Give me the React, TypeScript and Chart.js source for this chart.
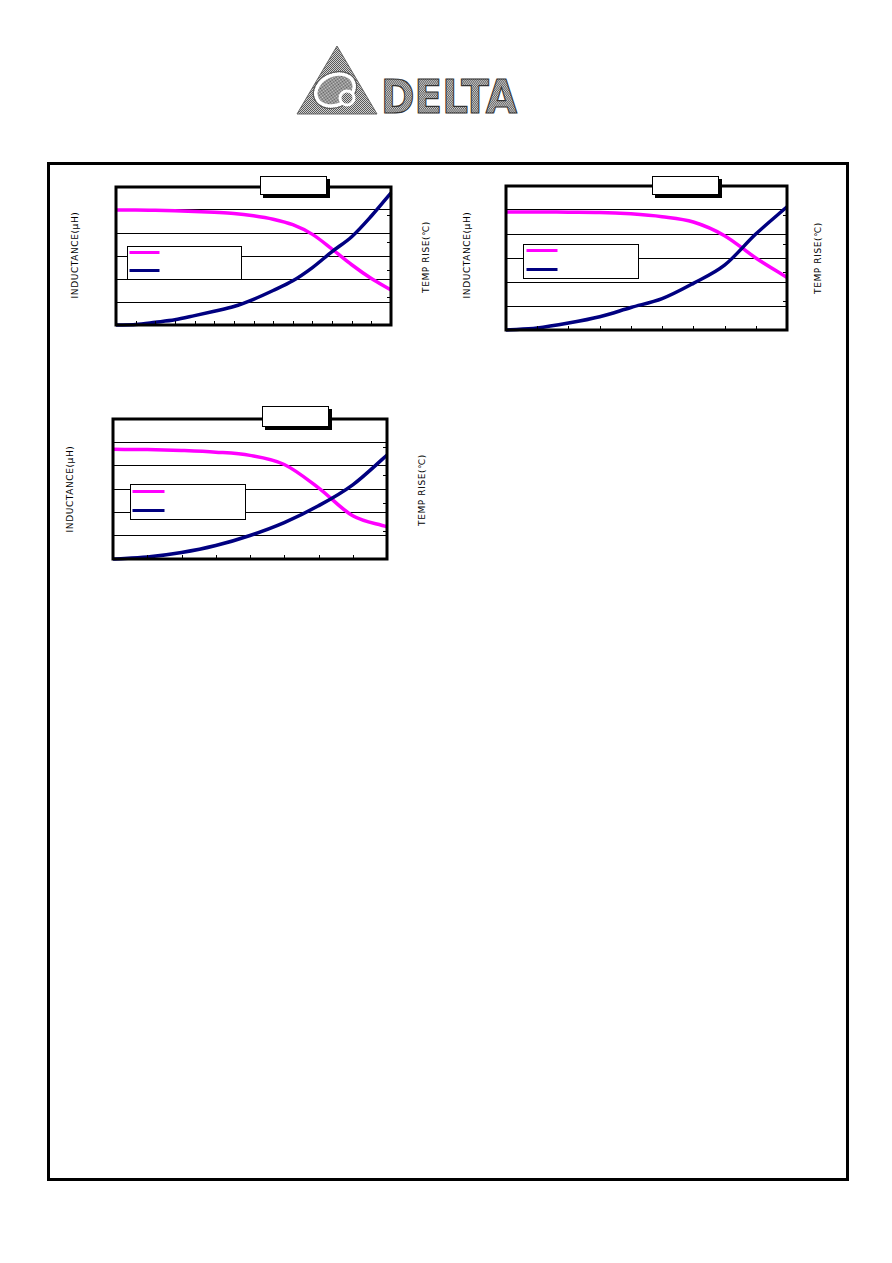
import React, { useEffect, useRef } from "react";
import { Chart, registerables } from "chart.js";
Chart.register(...registerables);

// ---------- data ----------
const seriesNames = ["INDUCTANCE", "TEMP RISE"];
const leftAxisTitle = "INDUCTANCE(μH)";
const rightAxisTitle = "TEMP RISE(℃)";

const chart1X = [0, 1, 2, 3, 4, 5, 6, 7, 8, 9, 10, 11, 12, 13, 14];
const chart1Inductance = [5.0, 5.0, 4.99, 4.97, 4.94, 4.9, 4.85, 4.75, 4.6, 4.36, 3.94, 3.3, 2.62, 2.02, 1.52];
const chart1TempRise = [0, 0.02, 0.1, 0.19, 0.34, 0.5, 0.67, 0.93, 1.25, 1.6, 2.08, 2.66, 3.2, 3.95, 4.79];

const chart2X = [0, 1, 2, 3, 4, 5, 6, 7, 8, 9];
const chart2Inductance = [4.92, 4.92, 4.91, 4.9, 4.84, 4.72, 4.5, 3.93, 3.0, 2.19];
const chart2TempRise = [0, 0.07, 0.24, 0.46, 0.78, 1.09, 1.62, 2.25, 3.33, 4.28];

const chart3X = [0, 1, 2, 3, 4, 5, 6, 7, 8];
const chart3Inductance = [4.7, 4.69, 4.65, 4.58, 4.44, 4.05, 3.05, 1.85, 1.38];
const chart3TempRise = [0, 0.07, 0.23, 0.48, 0.84, 1.3, 1.9, 2.65, 3.71];

const leftMax = 6;
const rightMax = 5;

const PAD = 8;

type Cfg = {
  xs: number[];
  ind: number[];
  temp: number[];
  xMax: number;
  plot: [number, number, number, number];
  legend: [number, number, number, number];
  legendLine: [number, number, number, number];
  titleBox: [number, number, number, number];
  leftLabel: [number, number];
  rightLabel: [number, number];
};

const charts: Cfg[] = [
  {
    xs: chart1X, ind: chart1Inductance, temp: chart1TempRise, xMax: 14,
    plot: [116, 187, 391, 325],
    legend: [11, 59, 114, 33],
    legendLine: [2, 32, 6, 24],
    titleBox: [260, 176, 67, 19],
    leftLabel: [75, 255],
    rightLabel: [426, 257],
  },
  {
    xs: chart2X, ind: chart2Inductance, temp: chart2TempRise, xMax: 9,
    plot: [506, 186, 787, 330],
    legend: [17, 58, 115, 34],
    legendLine: [3, 34, 6, 25],
    titleBox: [652, 176, 67, 19],
    leftLabel: [467, 255],
    rightLabel: [818, 258],
  },
  {
    xs: chart3X, ind: chart3Inductance, temp: chart3TempRise, xMax: 8,
    plot: [113, 419, 387, 559],
    legend: [17, 65, 115, 35],
    legendLine: [2, 34, 7, 26],
    titleBox: [262, 406, 67, 21],
    leftLabel: [70, 489],
    rightLabel: [422, 490],
  },
];

function makePlugin(cfg: Cfg) {
  return {
    id: "frameAndLegend",
    afterDraw(chart: any) {
      const ctx = chart.ctx as CanvasRenderingContext2D;
      const ca = chart.chartArea;
      const xs = chart.scales.x;
      const y2 = chart.scales.y2;
      ctx.save();
      ctx.strokeStyle = "#000";
      ctx.lineWidth = 1;
      for (let v = 1; v < cfg.xMax; v++) {
        const px = Math.round(xs.getPixelForValue(v)) + 0.5;
        ctx.beginPath();
        ctx.moveTo(px, ca.bottom);
        ctx.lineTo(px, ca.bottom - 4);
        ctx.stroke();
      }
      for (let v = 1; v < rightMax; v++) {
        const py = Math.round(y2.getPixelForValue(v)) + 0.5;
        ctx.beginPath();
        ctx.moveTo(ca.right, py);
        ctx.lineTo(ca.right - 4, py);
        ctx.stroke();
      }
      ctx.lineWidth = 3;
      ctx.strokeRect(ca.left, ca.top, ca.right - ca.left, ca.bottom - ca.top);
      const [lx, ly, lw, lh] = cfg.legend;
      const bx = Math.round(ca.left + lx) + 0.5;
      const by = Math.round(ca.top + ly) + 0.5;
      ctx.fillStyle = "#fff";
      ctx.fillRect(bx, by, lw, lh);
      ctx.lineWidth = 1;
      ctx.strokeRect(bx, by, lw, lh);
      const [x0, x1, yA, yB] = cfg.legendLine;
      const ds = chart.data.datasets;
      const order = [1, 0];
      [yA, yB].forEach((yy, i) => {
        const d = ds[order[i]];
        ctx.strokeStyle = d.borderColor;
        ctx.lineWidth = 3;
        ctx.beginPath();
        ctx.moveTo(bx + x0, by + yy);
        ctx.lineTo(bx + x1, by + yy);
        ctx.stroke();
      });
      ctx.restore();
    },
  };
}

function InductanceChart({ cfg }: { cfg: Cfg }) {
  const ref = useRef<HTMLCanvasElement>(null);
  const [l, t, r, b] = cfg.plot;
  const w = r - l + 2 * PAD;
  const h = b - t + 2 * PAD;
  useEffect(() => {
    if (!ref.current) return;
    const chart = new Chart(ref.current, {
      type: "line",
      data: {
        datasets: [
          {
            label: seriesNames[1],
            data: cfg.xs.map((x, i) => ({ x, y: cfg.temp[i] })),
            borderColor: "#000080",
            backgroundColor: "#000080",
            borderWidth: 3.5,
            yAxisID: "y2",
            order: 0,
            cubicInterpolationMode: "monotone",
            pointRadius: 0,
            clip: false as any,
          },
          {
            label: seriesNames[0],
            data: cfg.xs.map((x, i) => ({ x, y: cfg.ind[i] })),
            borderColor: "#FF00FF",
            backgroundColor: "#FF00FF",
            borderWidth: 3.5,
            yAxisID: "y",
            order: 1,
            cubicInterpolationMode: "monotone",
            pointRadius: 0,
            clip: false as any,
          },
        ],
      },
      options: {
        animation: false,
        responsive: false,
        devicePixelRatio: 1,
        layout: { padding: PAD },
        plugins: {
          legend: { display: false },
          title: { display: false },
          tooltip: { enabled: false },
        },
        scales: {
          x: {
            type: "linear",
            min: 0,
            max: cfg.xMax,
            ticks: { display: false, stepSize: 1 },
            grid: { display: false, drawTicks: false },
            border: { display: false },
          },
          y: {
            position: "left",
            min: 0,
            max: leftMax,
            ticks: { display: false, stepSize: 1 },
            grid: { color: "#000", lineWidth: 1, drawTicks: false },
            border: { display: false },
          },
          y2: {
            position: "right",
            min: 0,
            max: rightMax,
            ticks: { display: false, stepSize: 1 },
            grid: { display: false, drawTicks: false },
            border: { display: false },
          },
        },
      } as any,
      plugins: [makePlugin(cfg)],
    });
    return () => chart.destroy();
  }, []);
  const [tx, ty, tw, th] = cfg.titleBox;
  const labelStyle: React.CSSProperties = {
    position: "absolute",
    transform: "translate(-50%, -50%) rotate(-90deg)",
    whiteSpace: "nowrap",
    fontFamily: "'DejaVu Sans', sans-serif",
    fontSize: 9,
    letterSpacing: 0.6,
    color: "#000",
    lineHeight: "10px",
  };
  return (
    <>
      <canvas
        ref={ref}
        width={w}
        height={h}
        style={{ position: "absolute", left: l - PAD, top: t - PAD, width: w, height: h }}
      />
      <div
        style={{
          position: "absolute",
          left: tx,
          top: ty,
          width: tw,
          height: th,
          boxSizing: "border-box",
          border: "1px solid #000",
          background: "#fff",
          boxShadow: "3px 3px 0 #000",
        }}
      />
      <div style={{ ...labelStyle, left: cfg.leftLabel[0], top: cfg.leftLabel[1] }}>{leftAxisTitle}</div>
      <div style={{ ...labelStyle, left: cfg.rightLabel[0], top: cfg.rightLabel[1] }}>{rightAxisTitle}</div>
    </>
  );
}

function Logo() {
  return (
    <svg
      width={300}
      height={100}
      viewBox="0 0 300 100"
      style={{ position: "absolute", left: 295, top: 43, overflow: "visible" }}
    >
      <defs>
        <pattern id="dither" width="2" height="2" patternUnits="userSpaceOnUse">
          <rect width="2" height="2" fill="#d0d0d0" />
          <rect width="1" height="1" fill="#5a5a5a" />
          <rect x="1" y="1" width="1" height="1" fill="#5a5a5a" />
        </pattern>
      </defs>
      <polygon points="42,3 2,71 82,71" fill="url(#dither)" stroke="#666" strokeWidth="1" />
      <ellipse
        cx="40"
        cy="47"
        rx="20"
        ry="15"
        transform="rotate(-25 40 47)"
        fill="url(#dither)"
        stroke="#fff"
        strokeWidth="3.5"
      />
      <ellipse
        cx="40"
        cy="47"
        rx="22.5"
        ry="17.5"
        transform="rotate(-25 40 47)"
        fill="none"
        stroke="#555"
        strokeWidth="1"
      />
      <circle cx="52" cy="55" r="7" fill="url(#dither)" stroke="#fff" strokeWidth="3" />
      <g transform="translate(86 70) scale(1 1.22)">
        <text
          x="0"
          y="0"
          fontFamily="'DejaVu Sans', sans-serif"
          fontWeight="bold"
          fontSize="38"
          textLength="136"
          lengthAdjust="spacingAndGlyphs"
          fill="url(#dither)"
          stroke="#333"
          strokeWidth="1"
        >
          DELTA
        </text>
      </g>
    </svg>
  );
}

export default function App() {
  return (
    <div style={{ position: "absolute", left: 0, top: 0, width: 892, height: 1263, background: "#fff" }}>
      <Logo />
      <div
        style={{
          position: "absolute",
          left: 47,
          top: 162,
          width: 802,
          height: 1019,
          boxSizing: "border-box",
          border: "3px solid #000",
        }}
      />
      {charts.map((c, i) => (
        <InductanceChart key={i} cfg={c} />
      ))}
    </div>
  );
}
